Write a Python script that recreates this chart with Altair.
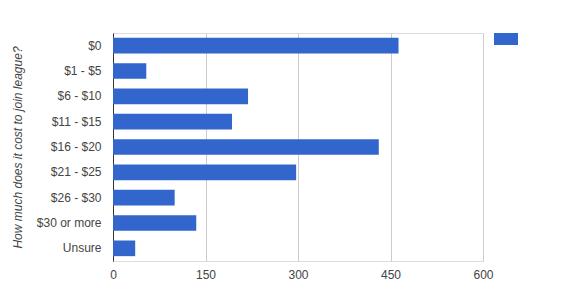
import altair as alt
import pandas as pd

categories = ["$0", "$1 - $5", "$6 - $10", "$11 - $15", "$16 - $20",
              "$21 - $25", "$26 - $30", "$30 or more", "Unsure"]
counts = [463, 54, 219, 193, 431, 297, 100, 135, 36]
x_ticks = [0, 150, 300, 450, 600]

df = pd.DataFrame({"cost": categories, "count": counts, "series": ["Count"] * len(categories)})

FONT = "Liberation Sans"

chart = alt.Chart(df).mark_bar(color="#3366cc").encode(
    y=alt.Y("cost:N", sort=categories,
            scale=alt.Scale(paddingInner=0.382, paddingOuter=0.191),
            axis=alt.Axis(title="How much does it cost to join league?",
                          titleFont=FONT, titleFontSize=12, titleFontStyle="italic",
                          titleFontWeight="normal", titleColor="#444", titlePadding=12,
                          labelFont=FONT, labelFontSize=12, labelColor="#444",
                          labelPadding=12, ticks=False, domain=True,
                          domainColor="#333", domainWidth=1, grid=False)),
    x=alt.X("count:Q", scale=alt.Scale(domain=[0, 600], nice=False),
            axis=alt.Axis(title=None, values=x_ticks, labelFont=FONT, labelFontSize=12,
                          labelColor="#444", labelPadding=8, labelFlush=False,
                          ticks=False, domain=False,
                          grid=True, gridColor="#cccccc", gridWidth=1)),
    color=alt.Color("series:N", scale=alt.Scale(range=["#3366cc"]),
                    legend=alt.Legend(title=None, orient="none", legendX=381, legendY=-6,
                                      symbolType="M-1,-0.5H1V0.5H-1Z", symbolSize=576,
                                      symbolStrokeWidth=0, labelExpr="''", padding=0)),
).properties(
    width=370, height=228,
    autosize=alt.AutoSizeParams(type="none"),
    padding={"left": 113, "top": 33, "right": 79, "bottom": 43},
).configure_view(stroke=None).configure(background="white")

chart.save("out.html", embed_options={"renderer": "svg", "actions": False})
